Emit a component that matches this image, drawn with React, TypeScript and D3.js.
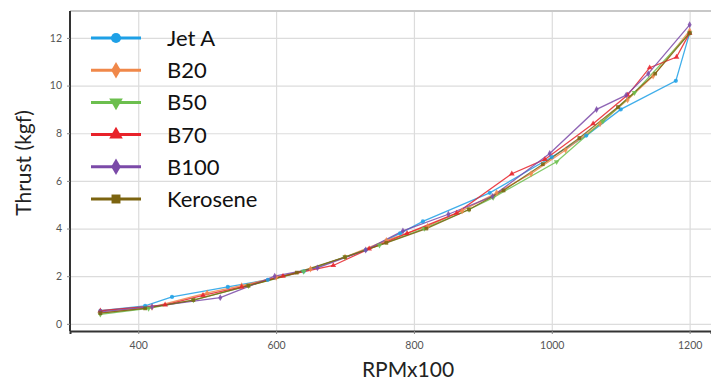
import React, { useEffect, useRef } from "react";
import * as d3 from "d3";

// series values: [RPMx100, thrust kgf]
const jetA = [[345,0.55],[410,0.75],[449,1.13],[530,1.55],[588,1.85],[640,2.2],[730,3.1],[780,3.8],[813,4.3],[910,5.5],[1000,7.0],[1050,7.9],[1100,9.0],[1180,10.2],[1200,12.2]];
const b20 = [[345,0.45],[420,0.7],[500,1.3],[550,1.6],[600,1.95],[650,2.3],[700,2.8],[760,3.5],[820,4.1],[870,4.75],[920,5.5],[970,6.3],[1020,7.3],[1070,8.4],[1110,9.4],[1147,10.4],[1200,12.3]];
const b50 = [[345,0.4],[415,0.65],[480,1.0],[560,1.6],[640,2.2],[700,2.8],[750,3.3],[815,4.0],[880,4.8],[915,5.3],[1007,6.8],[1074,8.5],[1120,9.7],[1200,12.2]];
const b70 = [[345,0.55],[439,0.8],[494,1.2],[550,1.55],[610,2.0],[683,2.45],[735,3.15],[790,3.8],[862,4.65],[942,6.3],[990,6.9],[1060,8.4],[1110,9.6],[1142,10.75],[1181,11.2],[1200,12.2]];
const b100 = [[345,0.5],[420,0.72],[519,1.1],[598,2.0],[660,2.35],[730,3.1],[784,3.9],[850,4.6],[914,5.35],[997,7.15],[1065,9.0],[1108,9.6],[1140,10.5],[1200,12.55]];
const kerosene = [[345,0.45],[410,0.65],[480,1.0],[560,1.6],[630,2.15],[700,2.8],[760,3.4],[818,4.0],[880,4.8],[930,5.6],[987,6.7],[1040,7.8],[1096,9.1],[1150,10.5],[1200,12.2]];

const names = ["Jet A", "B20", "B50", "B70", "B100", "Kerosene"];
const colors = ["#1ea0e6", "#f0884a", "#6cbf4e", "#e8222a", "#7b4aa8", "#7c6410"];
const symbols = [d3.symbolCircle, d3.symbolDiamond, d3.symbolTriangle, d3.symbolTriangle, d3.symbolDiamond, d3.symbolSquare];
const flips = [false, false, true, false, false, false];
const xTicks = [400, 600, 800, 1000, 1200];
const yTicks = [0, 2, 4, 6, 8, 10, 12];

export default function App() {
  const svgRef = useRef<SVGSVGElement>(null);

  useEffect(() => {
    const w = 711, h = 383;
    const m = { left: 70, top: 11, right: 711, bottom: 331 };
    const svg = d3.select(svgRef.current);
    svg.selectAll("*").remove();

    const x = d3.scaleLinear().domain([301, 1231]).range([m.left, m.right]);
    const y = d3.scaleLinear().domain([-0.3, 13.13]).range([m.bottom, m.top]);

    svg.append("rect").attr("width", w).attr("height", h).attr("fill", "white");

    // grid
    svg.append("g")
      .attr("transform", `translate(0,${m.bottom})`)
      .call(d3.axisBottom(x).tickValues(xTicks).tickSize(-(m.bottom - m.top)).tickFormat(() => ""))
      .call(g => g.select(".domain").remove())
      .selectAll("line").attr("stroke", "#dcdcdc").attr("stroke-width", 1.2);
    svg.append("g")
      .attr("transform", `translate(${m.left},0)`)
      .call(d3.axisLeft(y).tickValues(yTicks).tickSize(-(m.right - m.left)).tickFormat(() => ""))
      .call(g => g.select(".domain").remove())
      .selectAll("line").attr("stroke", "#dcdcdc").attr("stroke-width", 1.2);

    // top border
    svg.append("line").attr("x1", m.left).attr("x2", w).attr("y1", m.top).attr("y2", m.top)
      .attr("stroke", "#c8c8c8").attr("stroke-width", 2);

    // series
    const all = [jetA, b20, b50, b70, b100, kerosene];
    const line = d3.line<number[]>().x(d => x(d[0])).y(d => y(d[1]));
    all.forEach((data, i) => {
      svg.append("path").datum(data).attr("d", line)
        .attr("fill", "none").attr("stroke", colors[i]).attr("stroke-width", 1.3).attr("opacity", 0.85);
    });
    all.forEach((data, i) => {
      svg.append("g").selectAll("path").data(data).join("path")
        .attr("d", d3.symbol(symbols[i], 14))
        .attr("transform", d => `translate(${x(d[0])},${y(d[1])})${flips[i] ? " rotate(180)" : ""}`)
        .attr("fill", colors[i]).attr("opacity", 0.85);
    });

    // axes
    const xa = svg.append("g").attr("transform", `translate(0,${m.bottom})`)
      .call(d3.axisBottom(x).tickValues(xTicks).tickFormat(d3.format("d")).tickSize(3).tickPadding(8));
    xa.select(".domain").attr("stroke", "#333").attr("stroke-width", 2);
    xa.selectAll("text").attr("font-family", "Lato, sans-serif").attr("font-size", 10.5).attr("fill", "#555");
    xa.selectAll("line").attr("stroke", "#888");

    const ya = svg.append("g").attr("transform", `translate(${m.left},0)`)
      .call(d3.axisLeft(y).tickValues(yTicks).tickSize(3).tickPadding(5));
    ya.select(".domain").attr("stroke", "#333").attr("stroke-width", 2).attr("d", `M0,${m.top}V${m.bottom}`);
    ya.selectAll("text").attr("font-family", "Lato, sans-serif").attr("font-size", 10.5).attr("fill", "#555");
    ya.selectAll("line").attr("stroke", "#888");

    // axis titles
    svg.append("text").attr("x", 408).attr("y", 377).attr("text-anchor", "middle")
      .attr("font-family", "Lato, sans-serif").attr("font-size", 21).attr("fill", "#222").text("RPMx100");
    svg.append("text").attr("transform", "translate(31,163) rotate(-90)").attr("text-anchor", "middle")
      .attr("font-family", "Lato, sans-serif").attr("font-size", 21).attr("fill", "#222").text("Thrust (kgf)");

    // legend
    const leg = svg.append("g");
    names.forEach((n, i) => {
      const ly = 38 + i * 32.2;
      leg.append("line").attr("x1", 91).attr("x2", 141).attr("y1", ly).attr("y2", ly)
        .attr("stroke", colors[i]).attr("stroke-width", 3);
      leg.append("path").attr("d", d3.symbol(symbols[i], 80))
        .attr("transform", `translate(116,${ly})${flips[i] ? " rotate(180)" : ""}`)
        .attr("fill", colors[i]);
      leg.append("text").attr("x", 167).attr("y", ly + 8)
        .attr("font-family", "Lato, sans-serif").attr("font-size", 22).attr("fill", "#111").text(n);
    });
  }, []);

  return (
    <svg ref={svgRef} width={711} height={383} style={{ position: "absolute", left: 0, top: 0 }} />
  );
}
